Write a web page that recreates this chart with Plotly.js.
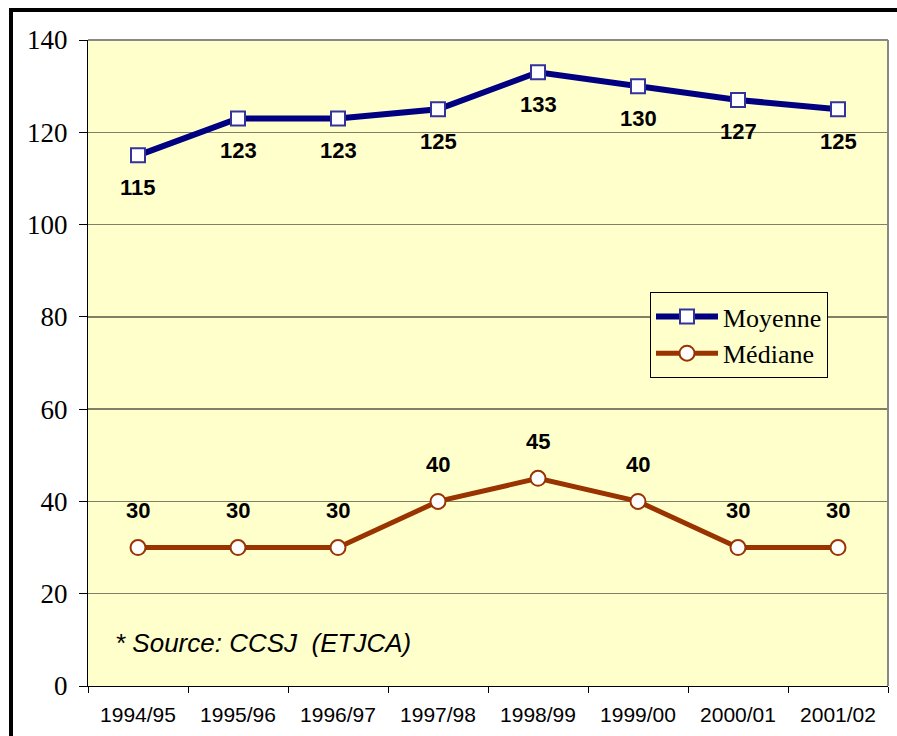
<!DOCTYPE html>
<html><head><meta charset="utf-8">
<script src="https://cdn.plot.ly/plotly-3.0.1.min.js"></script>
<style>body{margin:0;background:#fff}#chart{width:897px;height:736px}</style>
</head><body><div id="chart"></div>
<script>
var categories = ["1994/95","1995/96","1996/97","1997/98","1998/99","1999/00","2000/01","2001/02"];
var moyenne = [115,123,123,125,133,130,127,125];
var mediane = [30,30,30,40,45,40,30,30];
var yTicks = [0,20,40,60,80,100,120,140];

var traces = [
  {x:categories, y:moyenne, name:"Moyenne", type:"scatter", mode:"lines+markers",
   line:{color:"#000080", width:6},
   marker:{symbol:"square", size:14, color:"#ffffff", line:{color:"#333399", width:2}}},
  {x:categories, y:mediane, name:"Médiane", type:"scatter", mode:"lines+markers",
   line:{color:"#993300", width:5},
   marker:{symbol:"circle", size:15, color:"#ffffff", line:{color:"#993300", width:2}}}
];

var annotations = [];
categories.forEach(function(c,i){
  annotations.push({x:c, y:moyenne[i], text:"<b>"+moyenne[i]+"</b>", showarrow:false, yshift:-32,
    font:{family:"Liberation Sans, Arial", size:22, color:"#000"}});
  annotations.push({x:c, y:mediane[i], text:"<b>"+mediane[i]+"</b>", showarrow:false, yshift:37,
    font:{family:"Liberation Sans, Arial", size:22, color:"#000"}});
});
annotations.push({xref:"paper", yref:"paper", x:(113-88)/800, y:(686-643)/646, xanchor:"left", yanchor:"middle",
  text:"<i>* Source: CCSJ \u00a0(ETJCA)</i>", showarrow:false,
  font:{family:"Liberation Sans, Arial", size:26, color:"#000"}});

var layout = {
  width:897, height:736,
  margin:{l:88, r:9, t:40, b:50},
  paper_bgcolor:"#ffffff", plot_bgcolor:"#FFFFCC",
  showlegend:true,
  legend:{x:(650-88)/800, y:(686-292)/646, xanchor:"left", yanchor:"top",
    bgcolor:"#FFFFCC", bordercolor:"#000", borderwidth:1,
    font:{family:"Liberation Serif, Times New Roman", size:26, color:"#000"},
    itemwidth:62, tracegroupgap:0},
  xaxis:{type:"category", tickson:"boundaries", ticks:"outside", ticklen:6, tickcolor:"#000",
    showline:true, linecolor:"#000", linewidth:1, showgrid:false, zeroline:false, ticklabelstandoff:10,
    tickfont:{family:"Liberation Sans, Arial", size:21, color:"#000"}, range:[-0.5,7.5]},
  yaxis:{range:[0,140], tickvals:yTicks, ticks:"outside", ticklen:8, tickcolor:"#000",
    showline:true, linecolor:"#000", linewidth:1, showgrid:true, gridcolor:"#808068", gridwidth:1.5,
    zeroline:false, ticklabelstandoff:6,
    tickfont:{family:"Liberation Serif, Times New Roman", size:27, color:"#000"}},
  annotations:annotations,
  shapes:[
    {type:"line", xref:"paper", yref:"paper", x0:0, x1:1, y0:1, y1:1, line:{color:"#888888", width:2}},
    {type:"line", xref:"paper", yref:"paper", x0:1, x1:1, y0:0, y1:1, line:{color:"#888888", width:2}},
    {type:"line", xref:"paper", yref:"paper", x0:(11-88)/800, x1:(11-88)/800, y0:(686-8)/646, y1:-0.2, line:{color:"#000", width:4}},
    {type:"line", xref:"paper", yref:"paper", x0:(9-88)/800, x1:1.1, y0:(686-10)/646, y1:(686-10)/646, line:{color:"#000", width:4}}
  ]
};
Plotly.newPlot("chart", traces, layout, {displayModeBar:false, staticPlot:true});
</script></body></html>
